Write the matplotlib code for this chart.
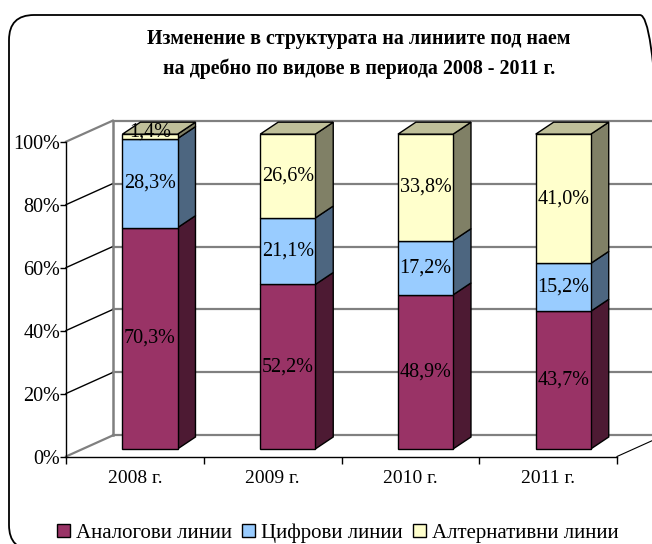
import matplotlib
matplotlib.use("Agg")
import matplotlib.pyplot as plt
from matplotlib.patches import Polygon, Patch, FancyBboxPatch

plt.rcParams["font.family"] = ["Liberation Serif", "DejaVu Serif"]

TITLE = "Изменение в структурата на линиите под наем\nна дребно по видове в периода 2008 - 2011 г."
YEARS = ["2008 г.", "2009 г.", "2010 г.", "2011 г."]
SERIES = ["Аналогови линии", "Цифрови линии", "Алтернативни линии"]
analog = [70.3, 52.2, 48.9, 43.7]
digital = [28.3, 21.1, 17.2, 15.2]
alternative = [1.4, 26.6, 33.8, 41.0]
Y_TICKS = [0, 20, 40, 60, 80, 100]

# front / side / top colours per series (Excel-like 3D shading)
FRONT = ["#993366", "#99CCFF", "#FFFFCC"]
SIDE = ["#4D1A33", "#4D6680", "#808066"]
TOP = ["#732650", "#7399BF", "#BFBF99"]
GRID = "#808080"

# projection offsets (data units)
WALL_DX, WALL_DY = 0.34, 6.7   # back wall depth
BAR_DX, BAR_DY = 0.13, 3.8     # bar depth
BAR_X, BAR_Y = 0.11, 2.4       # bar front face shift from front plane
BAR_W = 0.40

fig = plt.figure(figsize=(6.52, 5.44), dpi=100)
ax = fig.add_axes([66 / 652, 1 - 456.5 / 544, 551 / 652, 314.8 / 544])
ax.set_xlim(-0.5, 3.5)
ax.set_ylim(0, 100)
ax.patch.set_visible(False)

# back wall grid + side wall
x_left = -0.5
x_back = x_left + WALL_DX
for v in Y_TICKS:
    ax.plot([x_back, 4.2], [v + WALL_DY, v + WALL_DY], color=GRID, lw=1.6,
            clip_on=False, zorder=1)
    c = GRID if v in (0, 100) else "black"
    ax.plot([x_left, x_back], [v, v + WALL_DY], color=c, lw=1.0 if c == "black" else 1.6,
            clip_on=False, zorder=1)
ax.plot([x_back, x_back], [WALL_DY, 100 + WALL_DY], color=GRID, lw=1.8, clip_on=False, zorder=1)
ax.plot([3.5, 3.5 + WALL_DX], [0, WALL_DY], color="black", lw=0.8, clip_on=False, zorder=1)

# bars
data = [analog, digital, alternative]
for i in range(len(YEARS)):
    total = sum(s[i] for s in data)
    bottom = 0.0
    x0 = i + BAR_X - BAR_W / 2
    x1 = x0 + BAR_W
    for k, s in enumerate(data):
        h = s[i] / total * 100
        y0 = BAR_Y + bottom
        y1 = y0 + h
        front = Polygon([(x0, y0), (x1, y0), (x1, y1), (x0, y1)], closed=True,
                        facecolor=FRONT[k], edgecolor="black", lw=1.0, zorder=3, clip_on=False)
        side = Polygon([(x1, y0), (x1 + BAR_DX, y0 + BAR_DY), (x1 + BAR_DX, y1 + BAR_DY), (x1, y1)],
                       closed=True, facecolor=SIDE[k], edgecolor="black", lw=1.0, zorder=3,
                       clip_on=False)
        ax.add_patch(side)
        ax.add_patch(front)
        if k == len(data) - 1:
            top = Polygon([(x0, y1), (x1, y1), (x1 + BAR_DX, y1 + BAR_DY), (x0 + BAR_DX, y1 + BAR_DY)],
                          closed=True, facecolor=TOP[k], edgecolor="black", lw=1.0, zorder=3,
                          clip_on=False)
            ax.add_patch(top)
        ax.text((x0 + x1) / 2, (y0 + y1) / 2 + (1.5 if h < 3 else 0), f"{s[i]:.1f}%".replace(".", ","),
                ha="center", va="center", fontsize=14.5, color="black", zorder=5, clip_on=False)
        bottom += h

# axes
for sp in ["top", "right"]:
    ax.spines[sp].set_visible(False)
ax.spines["left"].set_linewidth(1.0)
ax.spines["bottom"].set_linewidth(1.0)
ax.set_yticks(Y_TICKS)
ax.set_yticklabels([f"{v}%" for v in Y_TICKS], fontsize=14.5)
ax.tick_params(axis="y", length=4, width=1.0, pad=0)
ax.set_xticks([-0.5, 0.5, 1.5, 2.5, 3.5])
ax.set_xticklabels([])
ax.tick_params(axis="x", which="major", length=5, width=1.0)
ax.set_xticks(range(len(YEARS)), minor=True)
ax.set_xticklabels(YEARS, minor=True, fontsize=14)
ax.tick_params(axis="x", which="minor", length=0, pad=10)

fig.text(359 / 652, 1 - 54 / 544, TITLE, ha="center", va="center", fontsize=14.4,
         fontweight="bold", linespacing=1.55)

handles = [Patch(facecolor=FRONT[k], edgecolor="black", lw=1.0) for k in range(3)]
fig.legend(handles, SERIES, loc="center", bbox_to_anchor=(338 / 652, 1 - 533 / 544),
           ncol=3, frameon=False, fontsize=15, handlelength=0.6, handleheight=0.6,
           handletextpad=0.3, columnspacing=0.5, borderaxespad=0)

# rounded chart border (partly outside the picture)
border = FancyBboxPatch((0.09, -0.06), 6.56, 5.35, boxstyle="round,pad=0,rounding_size=0.25",
                        transform=fig.dpi_scale_trans, facecolor="none", edgecolor="black",
                        lw=1.3, clip_on=False)
fig.patches.append(border)

fig.savefig("out.png", dpi=100)
